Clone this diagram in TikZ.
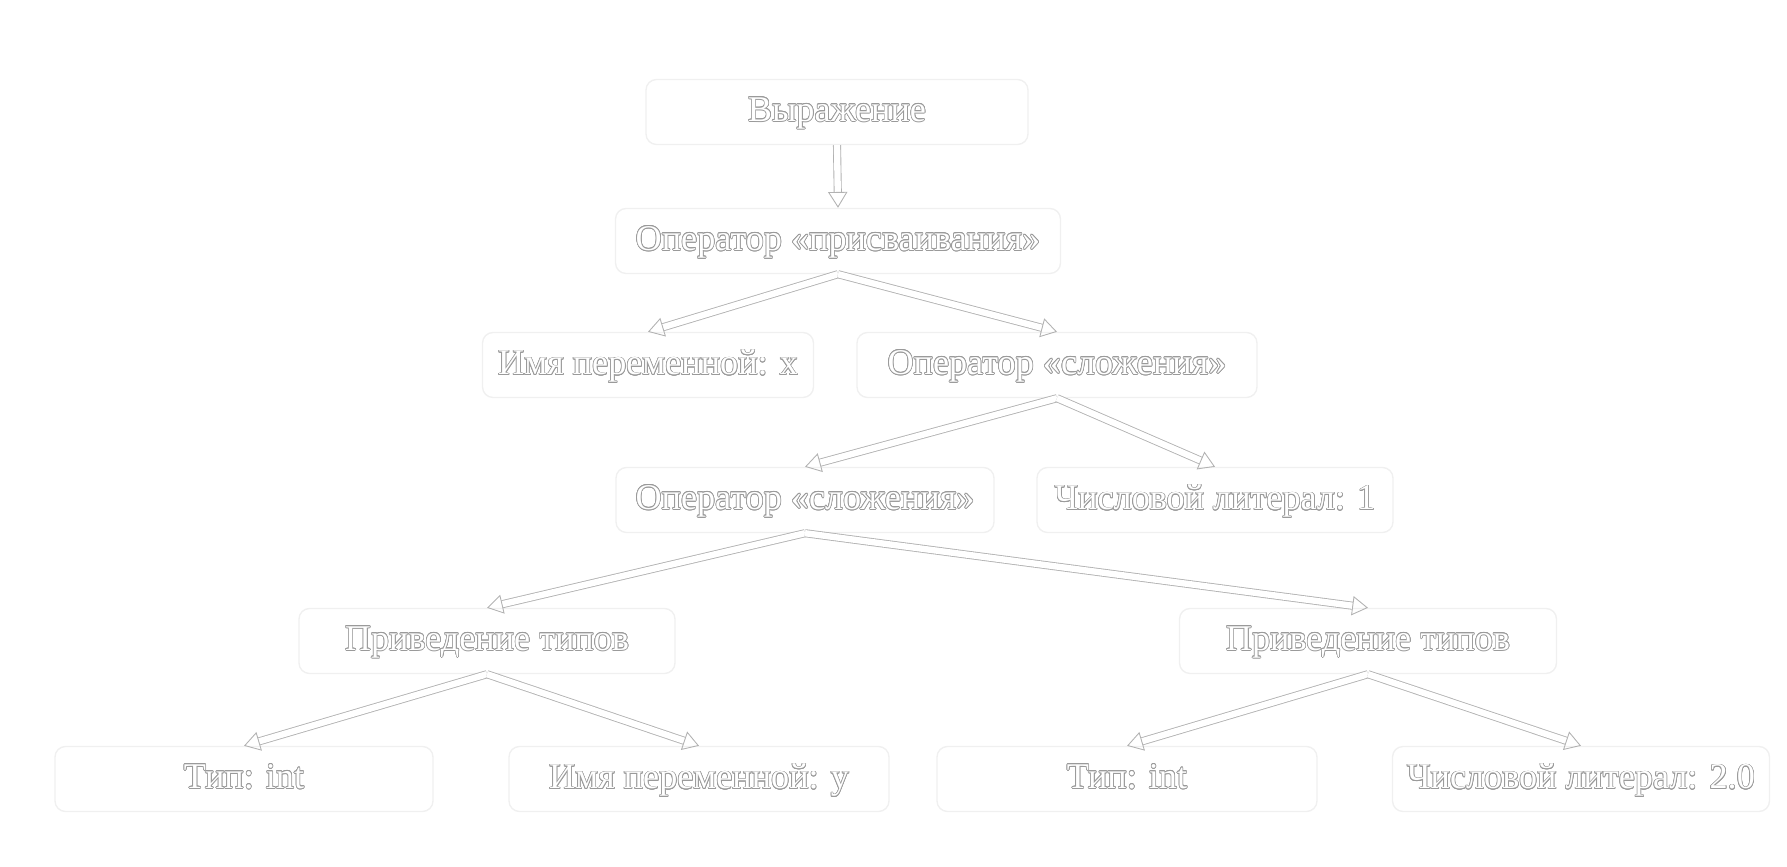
\documentclass[tikz,border=0pt]{standalone}
\usepackage{fontspec}
\setmainfont{Liberation Serif}
\usepackage{tikz}
\usepackage{xcolor}
\usepackage[copies]{contour}
\usetikzlibrary{arrows.meta}
\contourlength{0.2pt}

\begin{document}
\begin{tikzpicture}[astnode/.style={rectangle,rounded corners=3pt,draw=black!6,text=white,
    minimum height=0.65cm,inner sep=0pt,text depth=0.05cm,font=\fontsize{10.3}{12}\selectfont},
  astedge/.style={draw=black!30,line width=0.25pt,double=white,double distance=1.8pt,
    -{Triangle[open,length=4.5pt,width=5.5pt]}}]
\useasboundingbox (0,0) rectangle (17.87,8.66);
\definecolor{outline}{HTML}{9A9A9A}
  \foreach \nm/\x/\y/\w/\txt in {expr/8.37/7.54/3.82/Выражение,
    assign/8.38/6.25/4.45/Оператор «присваивания»,
    varx/6.48/5.01/3.31/Имя переменной: x,
    addA/10.57/5.01/4.00/Оператор «сложения»,
    addB/8.05/3.66/3.78/Оператор «сложения»,
    numA/12.15/3.66/3.56/Числовой литерал: 1,
    castL/4.87/2.25/3.76/Приведение типов,
    castR/13.68/2.25/3.77/Приведение типов,
    typeL/2.44/0.87/3.78/Тип: int,
    vary/6.99/0.87/3.80/Имя переменной: y,
    typeR/11.27/0.87/3.80/Тип: int,
    numB/15.81/0.87/3.77/Числовой литерал: 2.0}
  {  \node [astnode,minimum width=\w cm] (\nm) at (\x,\y) {\contour{outline}{\txt}};}
  \foreach \from/\to in {expr/assign,assign/varx,assign/addA,addA/addB,addA/numA,
    addB/castL,addB/castR,castL/typeL,castL/vary,castR/typeR,castR/numB}
  {  \draw [astedge] (\from.south) -- (\to.north);}
\end{tikzpicture}
\end{document}
